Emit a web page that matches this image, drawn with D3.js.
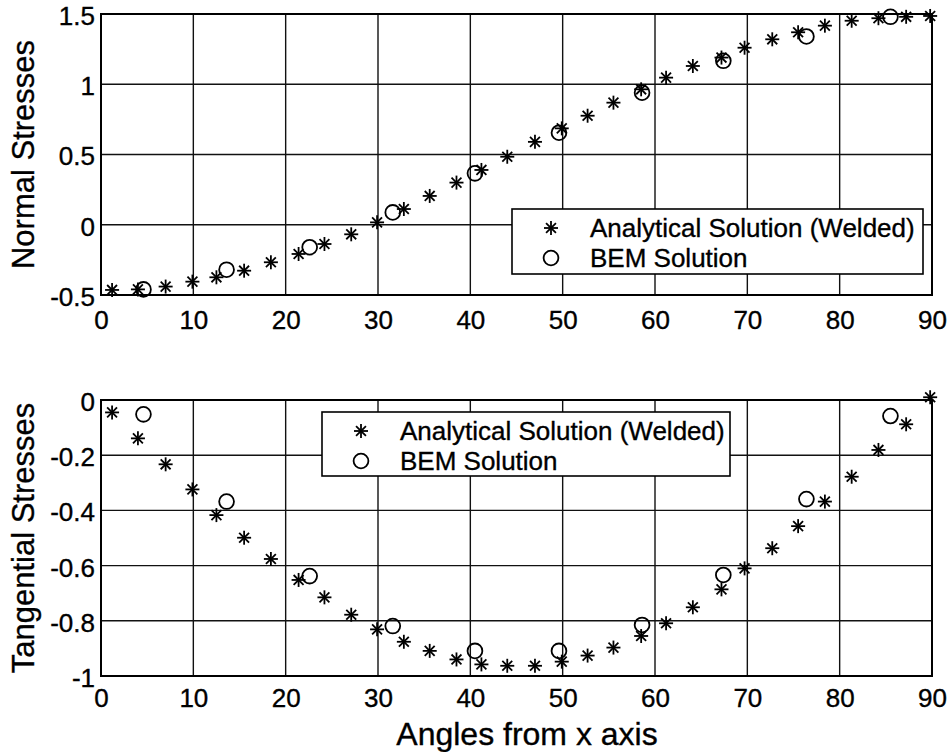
<!DOCTYPE html>
<html>
<head>
<meta charset="utf-8">
<script src="https://cdn.jsdelivr.net/npm/d3@7"></script>
<style>
  body { margin: 0; background: #fff; }
  text { font-family: "Liberation Sans", Arial, Helvetica, sans-serif; fill: #000; stroke: #000; stroke-width: 0.35px; }
</style>
</head>
<body>
<svg id="chart" width="951" height="752"></svg>
<script>
// angles (deg) of the analytical points, shared by both panels
const analyticAngles = [1.2, 4.0, 7.0, 9.9, 12.5, 15.5, 18.4, 21.4, 24.2, 27.1, 29.9, 32.8, 35.6, 38.5, 41.2, 44.0,
                        47.0, 49.9, 52.7, 55.5, 58.5, 61.2, 64.1, 67.2, 69.7, 72.7, 75.5, 78.4, 81.3, 84.2, 87.2, 89.8];
const normalAnalytic = [-0.464, -0.46, -0.44, -0.405, -0.374, -0.327, -0.267, -0.208, -0.137, -0.068, 0.017, 0.112,
                        0.205, 0.30, 0.39, 0.484, 0.59, 0.686, 0.776, 0.869, 0.964, 1.047, 1.13, 1.19, 1.26, 1.32,
                        1.37, 1.417, 1.452, 1.47, 1.48, 1.486];
const tangentialAnalytic = [-0.045, -0.139, -0.233, -0.324, -0.417, -0.499, -0.576, -0.652, -0.715, -0.778, -0.831,
                            -0.876, -0.909, -0.94, -0.958, -0.963, -0.963, -0.948, -0.926, -0.897, -0.855, -0.809,
                            -0.751, -0.686, -0.61, -0.537, -0.457, -0.368, -0.278, -0.181, -0.088, 0.01];

const bemAngles = [4.6, 13.6, 22.6, 31.6, 40.5, 49.6, 58.6, 67.4, 76.4, 85.5];
const normalBEM = [-0.46, -0.32, -0.16, 0.088, 0.366, 0.655, 0.94, 1.167, 1.34, 1.48];
const tangentialBEM = [-0.052, -0.368, -0.638, -0.819, -0.909, -0.909, -0.815, -0.634, -0.359, -0.058];

const xTicks = [0, 10, 20, 30, 40, 50, 60, 70, 80, 90];
const normalTicks = [-0.5, 0, 0.5, 1, 1.5];
const tangentialTicks = [-1, -0.8, -0.6, -0.4, -0.2, 0];
const legendLabels = ['Analytical Solution (Welded)', 'BEM Solution'];

const svg = d3.select('#chart');

const x = d3.scaleLinear().domain([0, 90]).range([101, 932]);

// asterisk marker like matlab '*'
function star(g, cx, cy, r) {
    const p = g.append('g').attr('transform', `translate(${cx},${cy})`);
    [0, 45, 90, 135].forEach(a => {
        const rad = a * Math.PI / 180;
        p.append('line')
            .attr('x1', -r * Math.cos(rad)).attr('y1', -r * Math.sin(rad))
            .attr('x2', r * Math.cos(rad)).attr('y2', r * Math.sin(rad))
            .attr('stroke', '#000').attr('stroke-width', 1.8);
    });
}

function panel(opts) {
    const y = d3.scaleLinear().domain(opts.domain).range([opts.bottom, opts.top]);
    const g = svg.append('g');

    // grid
    g.selectAll('.vgrid').data(xTicks.slice(1, -1)).enter()
        .append('line')
        .attr('x1', d => x(d)).attr('x2', d => x(d))
        .attr('y1', opts.top).attr('y2', opts.bottom)
        .attr('stroke', '#111').attr('stroke-width', 1.4);
    g.selectAll('.hgrid').data(opts.ticks.slice(1, -1)).enter()
        .append('line')
        .attr('x1', x(0)).attr('x2', x(90))
        .attr('y1', d => y(d)).attr('y2', d => y(d))
        .attr('stroke', '#111').attr('stroke-width', 1.4);

    g.append('rect')
        .attr('x', x(0)).attr('y', opts.top)
        .attr('width', x(90) - x(0)).attr('height', opts.bottom - opts.top)
        .attr('fill', 'none').attr('stroke', '#000').attr('stroke-width', 2);

    // tick labels
    const xAxis = d3.axisBottom(x).tickValues(xTicks).tickSize(0).tickPadding(opts.xPad).tickFormat(d3.format('d'));
    const xg = g.append('g').attr('transform', `translate(0,${opts.bottom})`).call(xAxis);
    xg.select('.domain').remove();
    xg.selectAll('text').style('font-size', '26px').attr('fill', '#000');

    const yAxis = d3.axisLeft(y).tickValues(opts.ticks).tickSize(0).tickPadding(6).tickFormat(d => d);
    const yg = g.append('g').attr('transform', `translate(${x(0)},0)`).call(yAxis);
    yg.select('.domain').remove();
    yg.selectAll('text').style('font-size', '26px').attr('fill', '#000').attr('dy', '0.4em');

    g.append('text')
        .attr('transform', `translate(34,${(opts.top + opts.bottom) / 2}) rotate(-90)`)
        .attr('text-anchor', 'middle')
        .style('font-size', '31px')
        .text(opts.title);

    // data
    const pts = g.append('g');
    analyticAngles.forEach((a, i) => star(pts, x(a), y(opts.analytic[i]), 7));
    pts.selectAll('circle').data(bemAngles).enter()
        .append('circle')
        .attr('cx', d => x(d))
        .attr('cy', (d, i) => y(opts.bem[i]))
        .attr('r', 7.4)
        .attr('fill', 'none').attr('stroke', '#000').attr('stroke-width', 1.8);

    // legend
    const lg = g.append('g');
    const L = opts.legend;
    lg.append('rect')
        .attr('x', L.x).attr('y', L.y).attr('width', L.w).attr('height', L.h)
        .attr('fill', '#fff').attr('stroke', '#000').attr('stroke-width', 1.6);
    legendLabels.forEach((t, i) => {
        const cy = L.y + 19 + i * 30;
        if (i === 0) star(lg, L.x + 39, cy, 7);
        else lg.append('circle').attr('cx', L.x + 39).attr('cy', cy).attr('r', 7.4)
                .attr('fill', 'none').attr('stroke', '#000').attr('stroke-width', 1.8);
        lg.append('text')
            .attr('x', L.x + 78).attr('y', cy + 9)
            .style('font-size', '26px')
            .text(t);
    });
}

panel({
    top: 14, bottom: 295, domain: [-0.5, 1.5], ticks: normalTicks, xPad: 16,
    title: 'Normal Stresses', analytic: normalAnalytic, bem: normalBEM,
    legend: {x: 512, y: 209, w: 411, h: 65}
});

panel({
    top: 400, bottom: 676, domain: [-1, 0], ticks: tangentialTicks, xPad: 13,
    title: 'Tangential Stresses', analytic: tangentialAnalytic, bem: tangentialBEM,
    legend: {x: 322, y: 412, w: 408, h: 64}
});

svg.append('text')
    .attr('x', 527).attr('y', 745)
    .attr('text-anchor', 'middle')
    .style('font-size', '32px')
    .text('Angles from x axis');
</script>
</body>
</html>
